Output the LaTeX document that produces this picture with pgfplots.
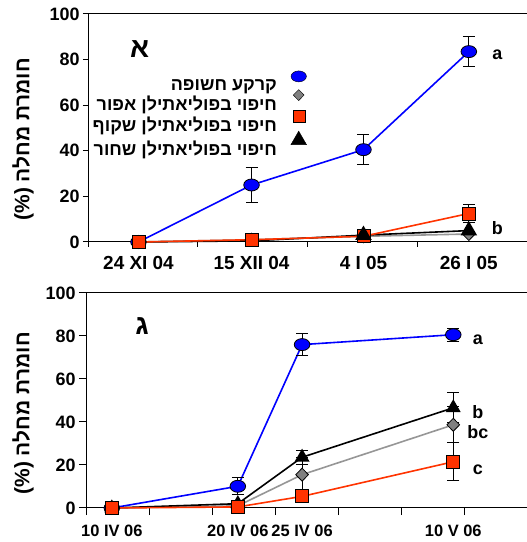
\documentclass[border=0pt]{standalone}
\usepackage{pgfplots}
\pgfplotsset{compat=1.18}
\usepackage{fontspec}
\setmainfont{Liberation Sans}
\newfontfamily\hebfont[Script=Hebrew]{Liberation Sans}
\TeXXeTstate=1

\definecolor{cblue}{RGB}{0,0,255}
\definecolor{cred}{RGB}{255,51,0}
\definecolor{cgray}{RGB}{128,128,128}
\definecolor{cgrayline}{RGB}{150,150,150}

\newcommand{\tickfont}{\fontsize{18}{20}\selectfont\bfseries}

\pgfplotsset{
  panel/.style={
    scale only axis,
    axis x line*=box, axis y line*=left,
    xtick pos=left, ytick pos=left,
    tick align=outside,
    ymin=0, ymax=100, ytick={0,20,...,100},
    axis line style={black, line width=1bp},
    major tick style={black, line width=1bp},
    major tick length=5bp,
    y tick label style={font=\tickfont},
    x tick label style={font=\tickfont, yshift=-11bp},
    /pgf/number format/assume math mode=true,
    xticklabels={},
    extra x tick style={major tick length=0pt},
    ylabel style={font=\fontsize{21}{23}\selectfont\bfseries},
    clip=false,
  },
  err/.style={
    /pgfplots/error bars/y dir=both,
    /pgfplots/error bars/y explicit,
    /pgfplots/error bars/error bar style={black, line width=1bp},
    /pgfplots/error bars/error mark options={rotate=90, mark size=6bp, black, line width=1bp}},
  sblue/.style={cblue, line width=1.6bp, mark=*, mark size=6bp,
    mark options={fill=cblue, draw=black, line width=0.8bp, xscale=1.3}},
  sgray/.style={cgrayline, line width=1.6bp, mark=diamond*, mark size=6.5bp,
    mark options={fill=cgray, draw=black, line width=0.8bp, xscale=1.3}},
  sred/.style={cred, line width=1.6bp, mark=square*, mark size=6.5bp,
    mark options={fill=cred, draw=black, line width=0.8bp}},
  sblack/.style={black, line width=1.6bp, mark=triangle*, mark size=8bp,
    mark options={fill=black, draw=black}},
}

\begin{document}
\begin{tikzpicture}
\useasboundingbox (0,0) rectangle (527bp,542bp);

% upper panel
\begin{axis}[panel,
  at={(88bp,300bp)}, anchor=south west,
  width=439bp, height=228bp,
  xmin=0, xmax=4, xtick={0,1,2,3,4},
  x tick label style={font=\fontsize{19}{21}\selectfont\bfseries},
  extra x ticks={0.46,1.49,2.51,3.47},
  extra x tick labels={24 XI 04,15 XII 04,4 I 05,26 I 05},
  ylabel={(\%) {\hebfont\beginR חומרת מחלה\endR}},
  ylabel style={at={(axis description cs:-0.148,0.45)}, anchor=center, rotate=0},
  legend style={draw=none, fill=none, at={(axis cs:2.02,76)}, anchor=north east,
    font=\fontsize{18}{20}\selectfont\bfseries\hebfont, row sep=-4bp, column sep=12bp},
  legend cell align=right, legend plot pos=right,
  legend image post style={yshift=9bp},
]
\addlegendimage{only marks, mark=*, mark size=5.5bp, mark options={fill=cblue, draw=black, xscale=1.4}}
\addlegendentry{\beginR קרקע חשופה\endR}
\addlegendimage{only marks, mark=diamond*, mark size=5.5bp, mark options={fill=cgray, draw=black, xscale=1.3}}
\addlegendentry{\beginR חיפוי בפוליאתילן אפור\endR}
\addlegendimage{only marks, mark=square*, mark size=6bp, mark options={fill=cred, draw=black}}
\addlegendentry{\beginR חיפוי בפוליאתילן שקוף\endR}
\addlegendimage{only marks, mark=triangle*, mark size=9bp, mark options={fill=black, draw=black}}
\addlegendentry{\beginR חיפוי בפוליאתילן שחור\endR}

\addplot[sblue, err, forget plot] coordinates {
  (0.46,0) (1.49,25) +- (0,7.6) (2.51,40.5) +- (0,6.7) (3.47,83.5) +- (0,6.7)};
\addplot[sgray, forget plot] coordinates {
  (0.46,0) (1.49,1) (2.51,2.5) (3.47,3.5)};
\addplot[black, line width=1.6bp, forget plot] coordinates {
  (0.46,0) (1.49,0.5) (2.51,3) (3.47,5)};
\addplot[sred, err, forget plot] coordinates {
  (0.46,0) (1.49,1) (2.51,2.5) (3.47,12.5) +- (0,4)};
\addplot[sblack, only marks, mark indices={3,4}, forget plot] coordinates {
  (0.46,0) (1.49,0.5) (2.51,3) (3.47,5)};

\node[font=\fontsize{28}{30}\selectfont\bfseries\hebfont] at (axis cs:0.47,84.5) {א};
\node[font=\tickfont] at (axis cs:3.73,82) {a};
\node[font=\tickfont] at (axis cs:3.73,6.3) {b};
\end{axis}

% lower panel
\begin{axis}[panel,
  at={(86bp,34bp)}, anchor=south west,
  width=441bp, height=215bp,
  xmin=0, xmax=7, xtick={0,...,7},
  major tick length=7bp,
  x tick label style={font=\fontsize{16.5}{18}\selectfont\bfseries, yshift=-3bp},
  extra x ticks={0.41,2.41,3.43,5.83},
  extra x tick labels={10 IV 06,20 IV 06,25 IV 06,10 V 06},
  ylabel={(\%) {\hebfont\beginR חומרת מחלה\endR}},
  ylabel style={at={(axis description cs:-0.143,0.44)}, anchor=center, rotate=0},
]
\addplot[sblue, err] coordinates {
  (0.41,0) (2.41,10.1) +- (0,4) (3.43,76) +- (0,5.3) (5.83,80.6) +- (0,3)};
\addplot[sgray, err] coordinates {
  (0.41,0) (2.41,1) (3.43,15.5) +- (0,8) (5.83,38.7) +- (0,8.3)};
\addplot[sblack, mark size=7bp, err] coordinates {
  (0.41,0) (2.41,2) +- (0,1.5) (3.43,23.6) +- (0,3.2) (5.83,46.6) +- (0,7)};
\addplot[sred, err] coordinates {
  (0.41,0) (2.41,0.5) (3.43,5.4) (5.83,21.5) +- (0,8.8)};

\node[font=\fontsize{28}{30}\selectfont\bfseries\hebfont] at (axis cs:0.89,84.8) {ג};
\node[font=\tickfont] at (axis cs:6.22,78.3) {a};
\node[font=\tickfont] at (axis cs:6.22,44.5) {b};
\node[font=\tickfont] at (axis cs:6.22,35.2) {bc};
\node[font=\tickfont] at (axis cs:6.22,17.8) {c};
\end{axis}
\end{tikzpicture}
\end{document}
